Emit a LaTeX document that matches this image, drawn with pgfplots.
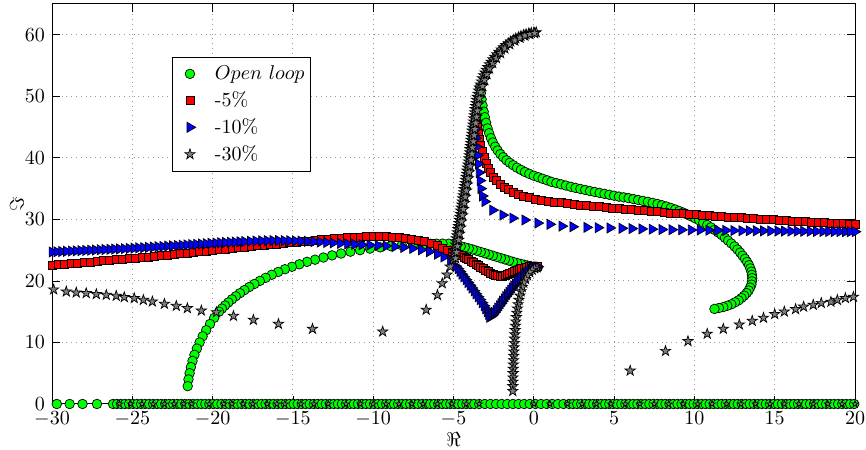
\documentclass[border=0pt]{standalone}
\usepackage{pgfplots}
\pgfplotsset{compat=1.18}
\definecolor{mgreen}{rgb}{0,1,0}
\definecolor{mred}{rgb}{1,0,0}
\definecolor{mblue}{rgb}{0,0,1}
\definecolor{mgray}{rgb}{0.5,0.5,0.5}
\pgfdeclareplotmark{pent}{%
  \pgfpathmoveto{\pgfpointpolar{90}{\pgfplotmarksize}}%
  \pgfpathlineto{\pgfpointpolar{126}{0.382\pgfplotmarksize}}%
  \pgfpathlineto{\pgfpointpolar{162}{\pgfplotmarksize}}%
  \pgfpathlineto{\pgfpointpolar{198}{0.382\pgfplotmarksize}}%
  \pgfpathlineto{\pgfpointpolar{234}{\pgfplotmarksize}}%
  \pgfpathlineto{\pgfpointpolar{270}{0.382\pgfplotmarksize}}%
  \pgfpathlineto{\pgfpointpolar{306}{\pgfplotmarksize}}%
  \pgfpathlineto{\pgfpointpolar{342}{0.382\pgfplotmarksize}}%
  \pgfpathlineto{\pgfpointpolar{18}{\pgfplotmarksize}}%
  \pgfpathlineto{\pgfpointpolar{54}{0.382\pgfplotmarksize}}%
  \pgfpathclose
  \pgfusepathqfillstroke
}
\begin{document}
\begin{tikzpicture}
\begin{axis}[
  scale only axis, width=401.5pt, height=200pt,
  xmin=-30, xmax=20, ymin=0, ymax=65,
  xtick={-30,-25,...,20}, ytick={0,10,...,60},
  grid=major, grid style={dotted, gray!80, line width=0.5pt},
  tick align=inside, major tick length=4pt,
  tick style={black, line width=0.4pt},
  axis line style={line width=0.5pt},
  xticklabel style={inner xsep=0pt, inner ysep=0.5pt, yshift=-3.3pt},
  yticklabel style={inner ysep=0pt},
  xlabel={$\Re$}, ylabel={$\Im$},
  every axis x label/.style={at={(axis description cs:0.5,0)}, anchor=center, yshift=-18pt, inner sep=1pt},
  every axis y label/.style={at={(axis description cs:-0.0436,0.5)}, anchor=center, rotate=90, inner sep=1pt},
  clip=false,
  legend cell align=left,
  legend image code/.code={\path[draw=none,fill=none] (-7.5pt,0pt) -- (10.5pt,0pt); \draw[#1] plot coordinates {(0pt,0pt)};},
  legend style={at={(axis cs:-22.5,56.4)}, anchor=north west, draw=black, line width=0.5pt,
    fill=white, row sep=0.5pt, inner xsep=1pt, inner ysep=2pt, nodes={inner xsep=2pt, inner ysep=2pt}},
  gstyle/.style={only marks, mark=*, mark size=2.4pt, mark options={fill=mgreen, draw=black, line width=0.35pt}},
  rstyle/.style={only marks, mark=square*, mark size=2pt, mark options={fill=mred, draw=black, line width=0.35pt}},
  bstyle/.style={only marks, mark=triangle*, mark size=2.9pt, mark options={fill=mblue, draw=black, line width=0.35pt, rotate=-90}},
  sstyle/.style={only marks, mark=pent, mark size=2.7pt, mark options={fill=mgray, draw=black, line width=0.35pt}},
]
\path (rel axis cs:1,1) ++(5.5pt,2pt);
\path (rel axis cs:0,0) ++(-26pt,-23pt);
% ---------------- Open loop (green circles) ----------------
\addplot[gstyle] coordinates {
(-29.7,0)(-28.9,0)(-28.1,0)(-27.2,0)
(-26.2,0)(-25.95,0)(-25.7,0)(-25.45,0)(-25.2,0)(-24.95,0)(-24.7,0)(-24.45,0)(-24.2,0)(-23.95,0)
(-23.7,0)(-23.45,0)(-23.2,0)(-22.95,0)(-22.7,0)(-22.45,0)(-22.2,0)(-21.95,0)(-21.7,0)(-21.45,0)
(-21.2,0)(-20.95,0)(-20.7,0)(-20.45,0)(-20.2,0)(-19.95,0)(-19.7,0)(-19.45,0)(-19.2,0)(-18.95,0)
(-18.7,0)(-18.45,0)(-18.2,0)(-17.95,0)(-17.7,0)(-17.45,0)(-17.2,0)(-16.95,0)(-16.7,0)(-16.45,0)
(-16.2,0)(-15.95,0)(-15.7,0)(-15.45,0)(-15.2,0)(-14.95,0)(-14.7,0)(-14.45,0)(-14.2,0)(-13.95,0)
(-13.7,0)(-13.45,0)(-13.2,0)(-12.95,0)(-12.7,0)(-12.45,0)(-12.2,0)(-11.95,0)(-11.7,0)(-11.45,0)
(-11.2,0)(-10.95,0)(-10.7,0)(-10.45,0)(-10.2,0)(-9.95,0)(-9.7,0)(-9.45,0)(-9.2,0)(-8.95,0)
(-8.7,0)(-8.45,0)(-8.2,0)(-7.95,0)(-7.7,0)(-7.45,0)(-7.2,0)(-6.95,0)(-6.7,0)(-6.45,0)
(-6.2,0)(-5.95,0)(-5.7,0)(-5.45,0)(-5.2,0)(-4.95,0)(-4.7,0)(-4.45,0)(-4.2,0)(-3.95,0)(-3.7,0)
(-3.4,0)(-3.05,0)(-2.7,0)(-2.35,0)(-2.0,0)(-1.65,0)(-1.3,0)(-0.95,0)(-0.6,0)(-0.25,0)(0.1,0)
(0.45,0)(0.8,0)(1.15,0)(1.5,0)(1.85,0)(2.2,0)
(2.45,0)(2.7,0)(2.95,0)(3.2,0)(3.45,0)(3.7,0)(3.95,0)(4.2,0)(4.45,0)(4.7,0)(4.95,0)(5.2,0)
(5.45,0)(5.7,0)(5.95,0)(6.2,0)(6.45,0)(6.7,0)(6.95,0)(7.2,0)(7.45,0)(7.7,0)(7.95,0)(8.2,0)
(8.45,0)(8.7,0)(8.95,0)(9.2,0)(9.45,0)(9.7,0)(9.95,0)(10.2,0)(10.45,0)(10.7,0)(10.95,0)(11.2,0)
(11.45,0)(11.7,0)(11.95,0)(12.2,0)(12.45,0)(12.7,0)(12.95,0)(13.2,0)(13.45,0)(13.7,0)(13.95,0)
(14.2,0)(14.45,0)(14.7,0)(14.95,0)(15.2,0)(15.45,0)(15.7,0)(15.95,0)(16.2,0)(16.45,0)(16.7,0)
(16.95,0)(17.2,0)(17.45,0)(17.7,0)(17.95,0)(18.2,0)(18.45,0)(18.7,0)(18.95,0)(19.2,0)(19.45,0)
(19.7,0)(19.95,0)
};
\addlegendentry{$Open\ loop$}
\addplot[gstyle, forget plot] coordinates {
(0.25,22.2)(0.0,22.3)(-0.2,22.4)(-0.4,22.5)(-0.6,22.62)(-0.8,22.75)(-1.05,22.92)(-1.3,23.1)
(-1.55,23.3)(-1.8,23.5)(-2.05,23.7)(-2.3,23.9)(-2.55,24.1)(-2.8,24.3)(-3.05,24.5)
(-3.3,24.7)(-3.55,24.9)(-3.8,25.1)(-4.05,25.28)(-4.3,25.45)(-4.55,25.63)(-4.8,25.8)(-5.05,25.95)
(-5.3,26.05)(-5.68,26.06)(-6.06,26.05)(-6.43,26.03)(-6.8,26.0)(-7.16,25.95)(-7.52,25.9)
(-8.22,25.8)(-8.9,25.65)(-9.56,25.45)(-10.2,25.25)(-10.82,25.0)(-11.42,24.75)(-12.0,24.45)
(-12.56,24.15)(-13.1,23.8)(-13.62,23.45)(-14.12,23.1)(-14.6,22.7)(-15.06,22.3)(-15.5,21.9)
(-15.92,21.45)(-16.32,21.0)(-16.7,20.5)(-17.06,20.0)(-17.4,19.5)(-17.72,19.0)(-18.02,18.5)
(-18.3,18.0)(-18.56,17.5)(-18.8,17.0)(-19.02,16.5)(-19.23,16.0)(-19.42,15.5)(-19.6,15.0)
(-19.9,14.0)(-20.16,13.0)(-20.4,12.0)(-20.62,11.0)(-20.81,10.0)(-20.98,9.0)(-21.13,8.0)
(-21.25,7.0)(-21.35,6.0)(-21.43,5.0)(-21.5,4.0)(-21.55,2.9)
};
\addplot[gstyle, forget plot] coordinates {
(-3.35,51.5)(-3.3,50.5)(-3.25,49.5)(-3.19,48.5)(-3.12,47.5)(-3.05,46.6)(-2.97,45.7)(-2.88,44.8)
(-2.78,44.0)(-2.67,43.2)(-2.55,42.5)(-2.4,41.8)(-2.25,41.2)(-2.08,40.6)(-1.9,40.1)(-1.7,39.6)
(-1.5,39.2)(-1.28,38.8)(-1.05,38.4)(-0.8,38.05)(-0.55,37.7)(-0.28,37.4)(0.0,37.1)(0.28,36.85)
(0.55,36.6)(0.83,36.35)(1.1,36.1)(1.4,35.9)(1.7,35.7)(2.0,35.5)(2.3,35.3)(2.6,35.12)(2.9,34.95)
(3.2,34.78)(3.5,34.6)(3.8,34.45)(4.1,34.3)(4.4,34.15)(4.7,34.0)(5.0,33.85)(5.3,33.7)(5.6,33.58)
(5.9,33.45)(6.2,33.3)(6.5,33.15)(6.8,33.0)(7.1,32.85)(7.4,32.68)(7.7,32.5)(7.98,32.3)(8.25,32.1)
(8.53,31.86)(8.8,31.6)(9.05,31.36)(9.3,31.1)(9.55,30.8)(9.8,30.5)(10.05,30.18)(10.3,29.85)
(10.55,29.48)(10.8,29.1)(11.03,28.7)(11.25,28.3)(11.48,27.88)(11.7,27.45)(11.9,27.0)(12.1,26.55)
(12.3,26.08)(12.5,25.6)(12.68,25.1)(12.85,24.6)(13.0,24.1)(13.15,23.6)(13.28,23.08)(13.4,22.55)
(13.48,22.03)(13.55,21.5)(13.58,20.98)(13.6,20.45)(13.58,19.93)(13.55,19.4)(13.47,18.92)
(13.38,18.45)(13.25,18.02)(13.1,17.6)(12.93,17.22)(12.75,16.85)(12.53,16.52)(12.3,16.2)
(12.05,15.97)(11.8,15.75)(11.53,15.6)(11.25,15.45)
};
% ---------------- -5% (red squares) ----------------
\addplot[rstyle] coordinates {
(-30.0,22.6)(-29.6,22.68)(-29.2,22.76)(-28.8,22.84)(-28.4,22.92)(-28.0,23.0)(-27.6,23.09)
(-27.2,23.18)(-26.8,23.27)(-26.4,23.36)(-26.0,23.45)(-25.6,23.54)(-25.2,23.63)(-24.8,23.72)
(-24.4,23.81)(-24.0,23.9)(-23.6,24.0)(-23.2,24.1)(-22.8,24.2)(-22.4,24.3)(-22.0,24.4)
(-21.6,24.51)(-21.2,24.62)(-20.8,24.73)(-20.4,24.84)(-20.0,24.95)(-19.6,25.06)(-19.2,25.17)
(-18.8,25.28)(-18.4,25.39)(-18.0,25.5)(-17.6,25.6)(-17.2,25.7)(-16.8,25.8)(-16.4,25.9)
(-16.0,26.0)(-15.6,26.1)(-15.2,26.2)(-14.8,26.3)(-14.4,26.4)(-14.0,26.5)(-13.6,26.59)
(-13.2,26.68)(-12.8,26.77)(-12.4,26.86)(-12.0,26.95)(-11.6,27.02)(-11.2,27.08)(-10.8,27.13)
(-10.4,27.17)(-10.0,27.2)(-9.6,27.21)(-9.2,27.2)(-8.8,27.15)(-8.4,27.05)(-8.0,26.95)(-7.6,26.8)
(-7.2,26.6)(-6.8,26.35)(-6.4,26.05)(-6.0,25.7)(-5.7,25.35)(-5.4,25.0)(-5.1,24.7)(-4.8,24.4)
(-4.5,24.1)(-4.35,23.9)(-4.2,23.7)(-4.05,23.48)(-3.9,23.25)(-3.75,23.0)(-3.6,22.75)(-3.45,22.5)
(-3.3,22.25)(-3.15,22.0)(-3.0,21.75)(-2.85,21.52)(-2.7,21.3)(-2.55,21.12)(-2.4,20.95)(-2.25,20.85)
(-2.1,20.8)(-1.95,20.82)(-1.8,20.9)(-1.65,21.0)(-1.5,21.15)(-1.35,21.32)(-1.2,21.5)(-1.05,21.68)
(-0.9,21.85)(-0.75,21.98)(-0.6,22.1)(-0.45,22.2)(-0.3,22.3)(-0.15,22.36)(0.0,22.4)(0.2,22.35)
};
\addlegendentry{-5\%}
\addplot[rstyle, forget plot] coordinates {
(-3.55,46.0)(-3.5,45.0)(-3.45,44.0)(-3.38,43.0)(-3.3,42.0)(-3.2,41.0)(-3.1,40.0)(-2.98,39.1)
(-2.85,38.3)(-2.7,37.6)(-2.52,36.9)(-2.32,36.3)(-2.1,35.75)(-1.85,35.25)(-1.58,34.8)(-1.28,34.4)
(-0.96,34.05)(-0.62,33.75)(-0.26,33.5)(0.12,33.3)(0.5,33.12)(0.9,32.96)(1.3,32.82)(1.7,32.7)
(2.1,32.58)(2.5,32.47)(2.9,32.36)(3.3,32.26)(3.7,32.16)(4.1,32.06)(4.5,31.96)(4.9,31.87)
(5.3,31.78)(5.7,31.69)(6.1,31.6)(6.5,31.51)(6.9,31.42)(7.3,31.33)(7.7,31.24)(8.1,31.15)
(8.5,31.06)(8.9,30.98)(9.3,30.9)(9.7,30.82)(10.1,30.74)(10.5,30.67)(10.9,30.6)(11.3,30.53)
(11.7,30.46)(12.1,30.4)(12.5,30.34)(12.9,30.27)(13.3,30.2)(13.7,30.13)(14.1,30.06)(14.5,30.0)
(14.9,29.93)(15.3,29.86)(15.7,29.8)(16.1,29.74)(16.5,29.68)(16.9,29.62)(17.3,29.56)(17.7,29.5)
(18.1,29.45)(18.5,29.4)(18.9,29.35)(19.3,29.3)(19.65,29.25)(20.0,29.2)
};
% ---------------- -10% (blue triangles) ----------------
\addplot[bstyle] coordinates {
(-30.0,24.7)(-29.7,24.74)(-29.4,24.78)(-29.1,24.81)(-28.8,24.85)(-28.5,24.88)(-28.2,24.92)
(-27.9,24.95)(-27.6,24.99)(-27.3,25.02)(-27.0,25.06)(-26.7,25.1)(-26.4,25.13)(-26.1,25.17)
(-25.8,25.2)(-25.5,25.24)(-25.2,25.28)(-24.9,25.32)(-24.6,25.37)(-24.3,25.41)(-24.0,25.45)
(-23.7,25.5)(-23.4,25.55)(-23.1,25.6)(-22.8,25.65)(-22.5,25.7)(-22.2,25.75)(-21.9,25.8)
(-21.6,25.85)(-21.3,25.9)(-21.0,25.95)(-20.7,26.0)(-20.4,26.05)(-20.1,26.1)(-19.8,26.15)
(-19.5,26.2)(-19.2,26.24)(-18.9,26.28)(-18.6,26.32)(-18.3,26.36)(-18.0,26.4)(-17.65,26.44)
(-17.3,26.48)(-16.95,26.52)(-16.6,26.55)(-16.25,26.56)(-15.9,26.56)(-15.55,26.55)(-15.2,26.53)
(-14.85,26.5)(-14.5,26.47)(-14.1,26.43)(-13.7,26.38)(-13.3,26.32)(-12.9,26.25)(-12.5,26.18)
(-12.05,26.1)(-11.6,26.02)(-11.15,25.95)(-10.7,25.88)(-10.2,25.82)(-9.7,25.75)(-9.2,25.68)
(-8.65,25.58)(-8.1,25.45)(-7.55,25.28)(-7.0,25.05)(-6.5,24.75)(-6.0,24.35)(-5.6,23.9)(-5.2,23.2)
(-4.85,22.4)(-4.72,21.98)(-4.6,21.55)(-4.48,21.1)(-4.35,20.65)(-4.22,20.2)(-4.1,19.75)
(-3.97,19.3)(-3.85,18.85)(-3.72,18.38)(-3.6,17.9)(-3.47,17.42)(-3.35,16.95)(-3.22,16.45)
(-3.1,15.95)(-3.0,15.48)(-2.9,15.0)(-2.82,14.55)(-2.75,14.1)(-2.65,14.3)(-2.55,14.5)(-2.45,14.85)
(-2.35,15.2)(-2.25,15.58)(-2.15,15.95)(-2.05,16.32)(-1.95,16.7)(-1.85,17.08)(-1.75,17.45)
(-1.65,17.8)(-1.55,18.15)(-1.45,18.5)(-1.35,18.85)(-1.25,19.18)(-1.15,19.5)(-1.05,19.8)
(-0.95,20.1)(-0.85,20.38)(-0.75,20.65)(-0.65,20.9)(-0.55,21.15)(-0.45,21.35)(-0.35,21.55)
(-0.25,21.72)(-0.15,21.9)(-0.05,22.02)(0.05,22.15)(0.15,22.22)(0.25,22.3)
};
\addlegendentry{-10\%}
\addplot[bstyle, forget plot] coordinates {
(-3.7,46.0)(-3.65,44.6)(-3.6,43.2)(-3.55,41.8)(-3.5,40.4)(-3.45,39.0)(-3.4,37.6)(-3.35,36.3)
(-3.3,35.0)(-3.2,33.8)(-3.05,32.9)(-2.56,31.5)(-1.93,30.7)(-1.31,30.2)(-0.56,29.9)(0.25,29.4)
(1.0,29.2)(1.75,28.9)(2.43,28.8)(3.3,28.7)(4.0,28.65)(4.74,28.6)(5.49,28.55)(6.11,28.5)
(6.73,28.45)(7.36,28.4)(7.98,28.35)(8.6,28.32)(9.2,28.3)(9.8,28.28)(10.35,28.26)(10.9,28.24)
(11.45,28.22)(11.95,28.2)(12.45,28.18)(12.95,28.16)(13.4,28.15)(13.85,28.14)(14.3,28.13)
(14.75,28.12)(15.2,28.11)(15.6,28.1)(16.0,28.09)(16.4,28.08)(16.8,28.07)(17.2,28.06)(17.6,28.05)
(18.0,28.04)(18.35,28.03)(18.7,28.02)(19.05,28.01)(19.4,28.0)(19.7,28.0)(20.0,28.0)
};
% ---------------- -30% (grey stars) ----------------
\addplot[sstyle] coordinates {
(-29.9,18.6)(-29.11,18.26)(-28.49,18.1)(-27.87,18.0)(-27.24,17.84)(-26.62,17.72)(-26.0,17.56)
(-25.5,17.35)(-24.88,17.19)(-24.31,16.9)(-23.75,16.64)(-23.0,16.26)(-22.26,15.93)(-21.57,15.56)
(-20.7,15.17)(-19.76,14.9)(-18.7,14.3)(-17.46,13.66)(-15.9,13.0)(-13.78,12.2)(-9.41,11.76)
(-6.7,15.3)(-6.0,17.7)(-5.7,19.6)(-5.4,21.0)(-5.2,22.3)
(-5.03,23.4)(-5.0,23.9)(-4.97,24.4)(-4.94,24.9)(-4.91,25.4)(-4.88,25.9)(-4.85,26.4)(-4.82,26.9)
(-4.78,27.4)(-4.75,27.9)(-4.72,28.4)(-4.69,28.9)(-4.66,29.4)(-4.63,29.9)(-4.6,30.4)(-4.57,30.9)
(-4.54,31.4)(-4.51,31.9)(-4.48,32.4)(-4.45,32.9)(-4.42,33.4)(-4.39,33.9)(-4.36,34.4)(-4.33,34.9)
(-4.3,35.4)(-4.27,35.9)(-4.24,36.4)(-4.21,36.9)(-4.18,37.4)(-4.15,37.9)(-4.12,38.4)(-4.09,38.9)
(-4.06,39.4)(-4.03,39.9)(-4.01,40.4)(-3.99,40.9)(-3.97,41.4)(-3.94,41.9)(-3.92,42.4)(-3.9,42.9)
(-3.88,43.4)(-3.85,43.9)(-3.83,44.4)(-3.8,44.9)(-3.78,45.4)(-3.75,45.9)(-3.73,46.4)(-3.7,46.9)
(-3.68,47.4)(-3.65,47.9)(-3.62,48.4)(-3.59,48.9)(-3.56,49.4)(-3.52,49.9)(-3.48,50.4)(-3.43,50.9)
(-3.38,51.4)(-3.32,51.9)(-3.26,52.4)(-3.19,52.9)(-3.12,53.4)(-3.04,53.85)(-2.96,54.3)(-2.87,54.75)
(-2.77,55.2)(-2.66,55.6)(-2.55,56.0)(-2.43,56.4)(-2.3,56.8)(-2.17,57.2)(-2.03,57.6)(-1.89,57.95)
(-1.74,58.3)(-1.59,58.6)(-1.44,58.9)(-1.28,59.15)(-1.12,59.4)(-0.96,59.6)(-0.8,59.8)(-0.64,59.95)
(-0.48,60.1)(-0.32,60.2)(-0.16,60.3)(0.0,60.35)(0.15,60.4)
};
\addlegendentry{-30\%}
\addplot[sstyle, forget plot] coordinates {
(-4.87,23.65)(-4.81,24.65)(-4.75,25.65)(-4.68,26.65)(-4.62,27.65)(-4.56,28.65)(-4.5,29.65)
(-4.44,30.65)(-4.38,31.65)(-4.32,32.65)(-4.26,33.65)(-4.2,34.65)(-4.14,35.65)(-4.08,36.65)
(-4.02,37.65)(-3.96,38.65)(-3.9,39.65)(-3.85,40.65)(-3.81,41.65)(-3.76,42.65)(-3.71,43.65)
(-3.66,44.65)(-3.61,45.65)(-3.56,46.65)(-3.51,47.65)(-3.45,48.65)(-3.39,49.65)(-3.3,50.65)
(-3.19,51.65)(-3.07,52.65)(-2.92,53.6)(-2.76,54.5)(-2.56,55.4)(-2.33,56.2)(-2.07,57.0)
(-1.8,57.75)(-1.5,58.45)(-1.18,59.05)(-0.86,59.5)(-0.55,59.85)(-0.25,60.1)(0.05,60.25)
};
\addplot[sstyle, forget plot] coordinates {
(0.2,22.2)(0.05,22.05)(-0.1,21.8)(-0.25,21.4)(-0.4,20.9)(-0.52,20.3)(-0.63,19.7)(-0.72,19.0)
(-0.8,18.3)(-0.87,17.6)(-0.93,16.9)(-0.98,16.2)(-1.02,15.5)(-1.06,14.8)(-1.09,14.1)(-1.12,13.4)
(-1.14,12.7)(-1.16,12.0)(-1.18,11.3)(-1.2,10.6)(-1.21,9.9)(-1.23,9.2)(-1.24,8.5)(-1.25,7.8)
(-1.26,7.1)(-1.27,6.4)(-1.28,5.7)(-1.29,5.0)(-1.3,4.3)(-1.3,3.6)(-1.31,2.9)(-1.31,2.1)
};
\addplot[sstyle, forget plot] coordinates {
(6.0,5.4)(8.2,8.6)(9.6,10.2)(10.8,11.4)(11.8,12.2)(12.8,12.9)(13.6,13.5)(14.3,14.0)(15.0,14.6)
(15.6,15.0)(16.3,15.4)(16.8,15.8)(17.4,16.1)(17.9,16.4)(18.5,16.6)(18.9,16.9)(19.4,17.2)(19.9,17.4)
};
\addplot[sstyle, mark size=1.8pt, forget plot] coordinates {
(-25.8,0)(-25.1,0)(-24.4,0)(-23.7,0)(-23.0,0)(-22.4,0)(-21.8,0)(-21.3,0)(-20.2,0)(-19.3,0)
(-18.8,0)(-18.1,0)(-17.5,0)(-16.6,0)(-16.0,0)(-15.5,0)(-14.5,0)(-13.7,0)(-12.8,0)(-11.7,0)
(-10.8,0)(-10.0,0)(-9.2,0)(-8.4,0)(-7.6,0)(-6.9,0)(-6.0,0)(-5.1,0)(-4.2,0)(-3.4,0)(0.0,0)
(1.0,0)(2.1,0)(3.0,0)(3.9,0)(4.8,0)(5.7,0)(6.6,0)(7.5,0)(8.4,0)(9.3,0)(10.2,0)(11.1,0)(12.0,0)
(12.9,0)(13.8,0)(14.7,0)(15.6,0)(16.5,0)(17.4,0)(18.3,0)(19.2,0)(20.0,0)
};
\end{axis}
\end{tikzpicture}
\end{document}
